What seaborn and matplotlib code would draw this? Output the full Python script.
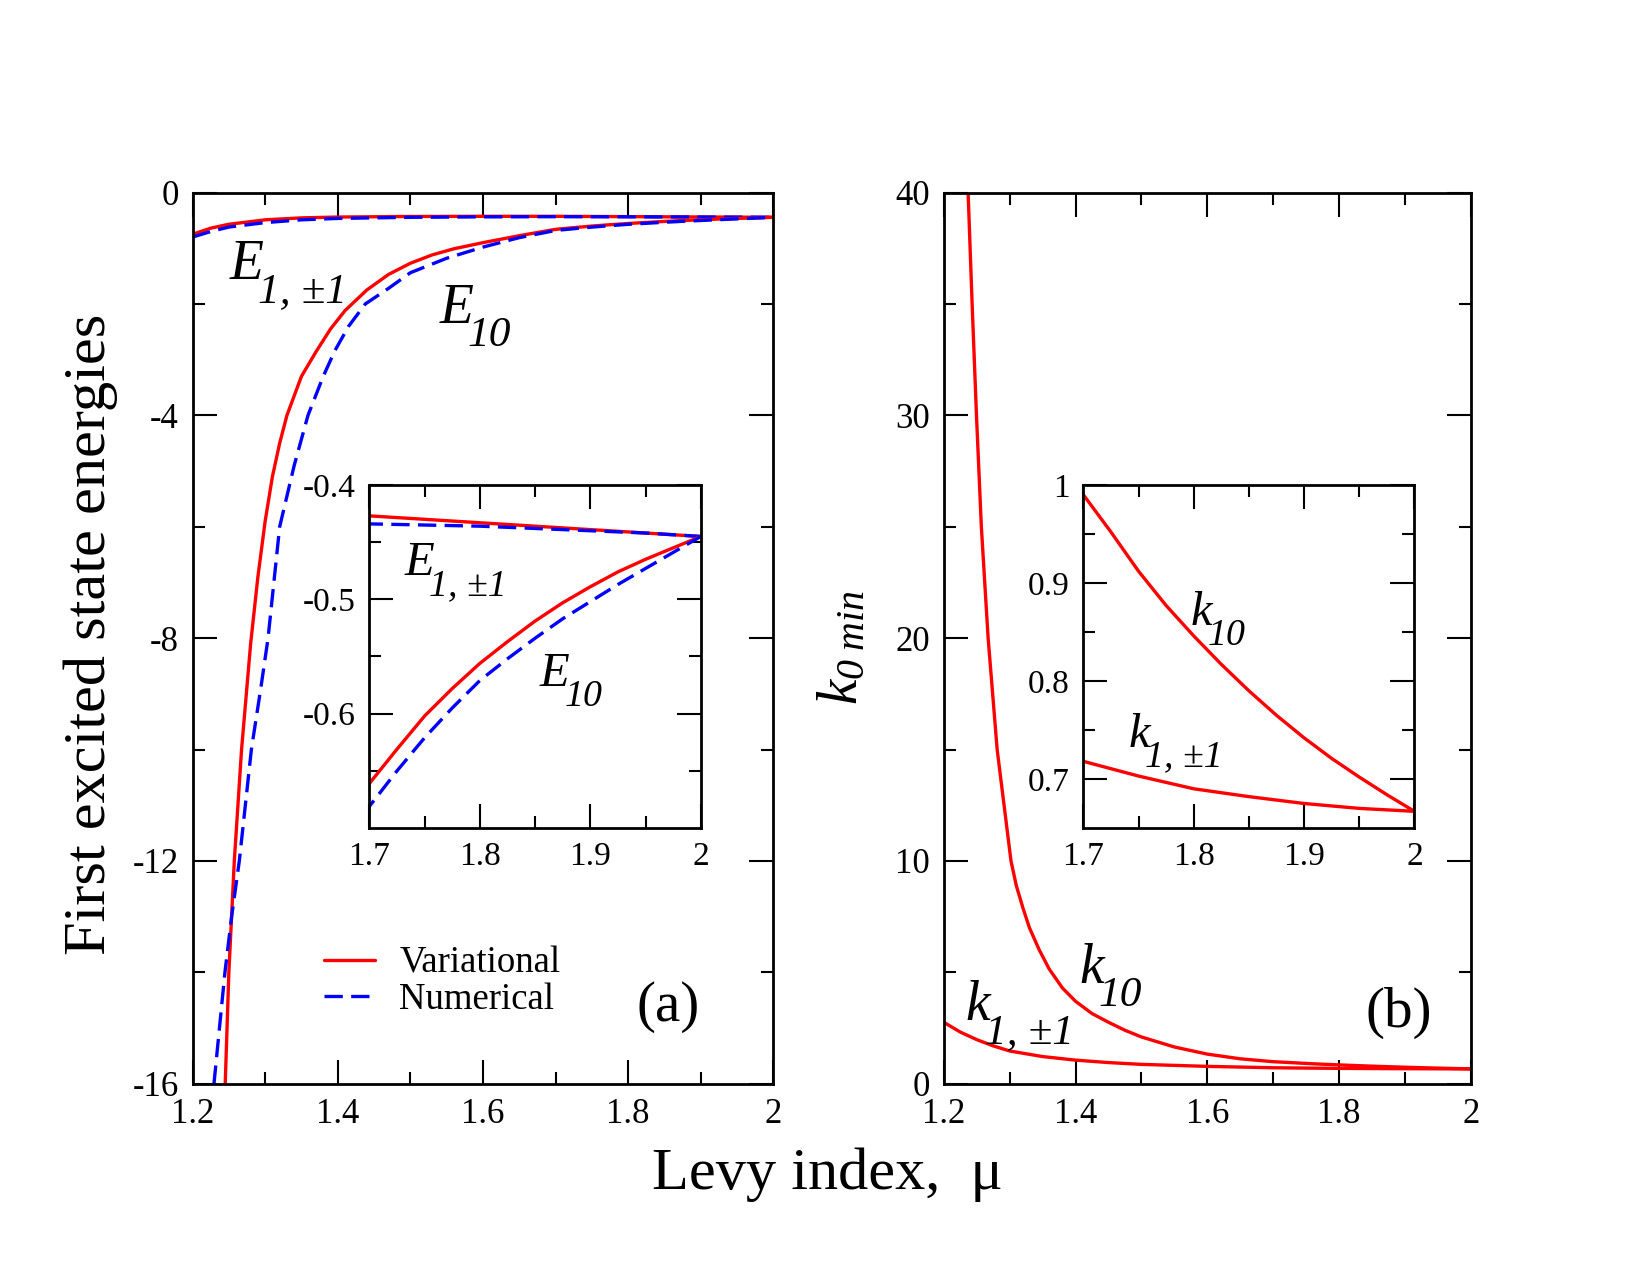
import numpy as np
import matplotlib
matplotlib.use("Agg")
import matplotlib.pyplot as plt
import seaborn as sns
from matplotlib.ticker import MultipleLocator, FixedLocator, FuncFormatter

# ---- data ----
mu_e1 = [1.20, 1.225, 1.25, 1.30, 1.35, 1.40, 1.50, 1.60, 1.70, 1.75, 1.80, 1.85, 1.90, 1.95, 2.00]
e1_var = [-0.75, -0.64, -0.57, -0.49, -0.455, -0.44, -0.43, -0.427, -0.427, -0.430, -0.433, -0.436, -0.439, -0.442, -0.445]
e1_num = [-0.80, -0.70, -0.62, -0.54, -0.49, -0.465, -0.445, -0.437, -0.434, -0.435, -0.436, -0.438, -0.440, -0.442, -0.445]

mu_e10_var = [1.245, 1.25, 1.2575, 1.2675, 1.28, 1.29, 1.30, 1.31, 1.32, 1.33, 1.35, 1.37, 1.39, 1.41,
              1.44, 1.47, 1.50, 1.53, 1.56, 1.60, 1.65, 1.70, 1.725, 1.75, 1.775, 1.80, 1.825, 1.85,
              1.875, 1.90, 1.925, 1.95, 1.975, 2.00]
e10_var = [-16.0, -14.0, -12.0, -10.0, -8.1, -6.9, -5.9, -5.1, -4.5, -4.0, -3.3, -2.86, -2.45, -2.12,
           -1.75, -1.47, -1.27, -1.12, -1.01, -0.90, -0.775, -0.661, -0.631, -0.602, -0.578, -0.556, -0.537, -0.519,
           -0.503, -0.489, -0.476, -0.465, -0.455, -0.445]

mu_e10_num = [1.2295, 1.2446, 1.2538, 1.2644, 1.281, 1.294, 1.304, 1.32, 1.34, 1.359, 1.38, 1.396, 1.415,
              1.438, 1.47, 1.50, 1.55, 1.60, 1.65, 1.70, 1.725, 1.75, 1.775, 1.80, 1.825, 1.85,
              1.875, 1.90, 1.925, 1.95, 1.975, 2.00]
e10_num = [-16.0, -14.0, -13.0, -12.0, -10.0, -8.9, -8.0, -6.0, -4.9, -4.0, -3.3, -2.84, -2.4,
           -2.0, -1.72, -1.44, -1.18, -0.98, -0.81, -0.681, -0.650, -0.621, -0.595, -0.571, -0.552, -0.534,
           -0.517, -0.502, -0.487, -0.473, -0.459, -0.445]

mu_k10 = [1.2369, 1.243, 1.2496, 1.257, 1.2673, 1.281, 1.302, 1.31, 1.32, 1.33, 1.345, 1.36, 1.38,
          1.40, 1.425, 1.45, 1.475, 1.50, 1.55, 1.60, 1.65, 1.70, 1.725, 1.75, 1.775, 1.80, 1.825,
          1.85, 1.875, 1.90, 1.925, 1.95, 1.975, 2.00]
k10 = [40.0, 35.0, 30.0, 25.0, 20.0, 15.0, 10.0, 8.9, 7.9, 7.0, 6.0, 5.15, 4.3,
       3.7, 3.15, 2.76, 2.4, 2.1, 1.65, 1.33, 1.12, 0.99, 0.952, 0.912, 0.877, 0.846, 0.817,
       0.790, 0.765, 0.742, 0.721, 0.702, 0.684, 0.667]

mu_k1 = [1.20, 1.225, 1.25, 1.275, 1.30, 1.35, 1.40, 1.45, 1.50, 1.60, 1.70, 1.75, 1.80, 1.85, 1.90, 1.95, 2.00]
k1 = [2.76, 2.32, 1.98, 1.70, 1.47, 1.22, 1.06, 0.95, 0.87, 0.78, 0.718, 0.703, 0.690, 0.682, 0.675, 0.670, 0.667]

RED = "#ff0000"
BLUE = "#0000ff"
LW = 2.4

sns.set_style("white")
plt.rcParams["font.family"] = ["Liberation Serif", "DejaVu Serif"]
plt.rcParams["mathtext.fontset"] = "custom"
plt.rcParams["mathtext.rm"] = "Liberation Serif:italic"
plt.rcParams["mathtext.it"] = "Liberation Serif:italic"
plt.rcParams["axes.unicode_minus"] = False
plt.rcParams["text.color"] = "black"
plt.rcParams["axes.labelcolor"] = "black"
plt.rcParams["xtick.color"] = "black"
plt.rcParams["ytick.color"] = "black"

fmt = FuncFormatter(lambda v, p: f"{v:g}")


def style_axes(ax, size):
    for s in ax.spines.values():
        s.set_visible(True)
        s.set_linewidth(2.0)
        s.set_color("black")
    ax.tick_params(which="both", direction="in", top=True, right=True, bottom=True, left=True,
                   width=1.5, colors="black", labelsize=size, pad=10)
    ax.tick_params(which="major", length=17)
    ax.tick_params(which="minor", length=8.5)
    ax.xaxis.set_major_formatter(fmt)
    ax.yaxis.set_major_formatter(fmt)
    ax.set_xlabel("")
    ax.set_ylabel("")


def draw(ax, x, y, color, dashed=False, label=None):
    sns.lineplot(x=x, y=y, ax=ax, color=color, linewidth=LW, estimator=None,
                 sort=False, label=label, legend=False)
    line = ax.get_lines()[-1]
    if dashed:
        line.set_dashes([5.5, 2.5])


def sub_label(ax, x, y, main, sub, size):
    t = ax.text(x, y, main, fontsize=size, style="italic", ha="left", va="baseline")
    ax.annotate(sub, xy=(1, 0), xycoords=t, xytext=(-0.1 * size, -0.2 * size),
                textcoords="offset points", fontsize=0.78 * size, style="italic",
                ha="left", va="baseline")


fig = plt.figure(figsize=(16.5, 12.75), dpi=100)
ax_a = fig.add_axes([0.1167, 0.150, 0.352, 0.699])
ax_b = fig.add_axes([0.572, 0.150, 0.3194, 0.699])
in_a = fig.add_axes([0.2239, 0.3506, 0.2008, 0.2690])
in_b = fig.add_axes([0.6566, 0.3506, 0.2006, 0.2690])

# ---- panel (a) ----
draw(ax_a, mu_e1, e1_var, RED, label="Variational")
draw(ax_a, mu_e1, e1_num, BLUE, dashed=True, label="Numerical")
draw(ax_a, mu_e10_var, e10_var, RED)
draw(ax_a, mu_e10_num, e10_num, BLUE, dashed=True)
ax_a.set_xlim(1.2, 2.0)
ax_a.set_ylim(-16, 0)
ax_a.xaxis.set_major_locator(MultipleLocator(0.2))
ax_a.xaxis.set_minor_locator(MultipleLocator(0.1))
ax_a.yaxis.set_major_locator(MultipleLocator(4))
ax_a.yaxis.set_minor_locator(MultipleLocator(2))
style_axes(ax_a, 25)
sub_label(ax_a, 1.251, -1.56, "E", "1, \u00b11", 40)
sub_label(ax_a, 1.54, -2.34, "E", "10", 40)
ax_a.text(1.855, -14.62, "(a)", fontsize=41, ha="center", va="center")
ax_a.legend(loc="center left", bbox_to_anchor=(0.226, 0.1145), frameon=False,
            fontsize=26.5, handlelength=1.4, handletextpad=0.65, labelspacing=0.05,
            borderpad=0, borderaxespad=0)

# ---- inset (a) ----
draw(in_a, mu_e1, e1_var, RED)
draw(in_a, mu_e1, e1_num, BLUE, dashed=True)
draw(in_a, mu_e10_var, e10_var, RED)
draw(in_a, mu_e10_num, e10_num, BLUE, dashed=True)
in_a.set_xlim(1.7, 2.0)
in_a.set_ylim(-0.7, -0.4)
in_a.xaxis.set_major_locator(MultipleLocator(0.1))
in_a.xaxis.set_minor_locator(MultipleLocator(0.05))
in_a.yaxis.set_major_locator(FixedLocator([-0.6, -0.5, -0.4]))
in_a.yaxis.set_minor_locator(FixedLocator([-0.65, -0.55, -0.45]))
style_axes(in_a, 24)
sub_label(in_a, 1.7315, -0.479, "E", "1, \u00b11", 35)
sub_label(in_a, 1.854, -0.576, "E", "10", 35)

# ---- panel (b) ----
draw(ax_b, mu_k10, k10, RED)
draw(ax_b, mu_k1, k1, RED)
ax_b.set_xlim(1.2, 2.0)
ax_b.set_ylim(0, 40)
ax_b.xaxis.set_major_locator(MultipleLocator(0.2))
ax_b.xaxis.set_minor_locator(MultipleLocator(0.1))
ax_b.yaxis.set_major_locator(MultipleLocator(10))
ax_b.yaxis.set_minor_locator(MultipleLocator(5))
style_axes(ax_b, 25)
sub_label(ax_b, 1.233, 2.88, "k", "1, \u00b11", 40)
sub_label(ax_b, 1.406, 4.53, "k", "10", 40)
ax_b.text(1.891, 3.16, "(b)", fontsize=41, ha="center", va="center")

# ---- inset (b) ----
draw(in_b, mu_k10, k10, RED)
draw(in_b, mu_k1, k1, RED)
in_b.set_xlim(1.7, 2.0)
in_b.set_ylim(0.65, 1.0)
in_b.xaxis.set_major_locator(MultipleLocator(0.1))
in_b.xaxis.set_minor_locator(MultipleLocator(0.05))
in_b.yaxis.set_major_locator(FixedLocator([0.7, 0.8, 0.9, 1.0]))
in_b.yaxis.set_minor_locator(FixedLocator([0.75, 0.85, 0.95]))
style_axes(in_b, 24)
sub_label(in_b, 1.797, 0.857, "k", "10", 35)
sub_label(in_b, 1.741, 0.733, "k", "1, \u00b11", 35)

# ---- axis titles ----
fig.text(0.395, 0.0674, "Levy index,  \u03bc", fontsize=43.5, ha="left", va="baseline")
fig.text(0.0548, 0.5027, "First excited state energies", fontsize=43.5, rotation=90,
         ha="center", va="center")
fig.text(0.511, 0.4925, r"$k_{0\ min}$", fontsize=41, rotation=90,
         ha="center", va="center")

fig.savefig("out.png", dpi=100)
